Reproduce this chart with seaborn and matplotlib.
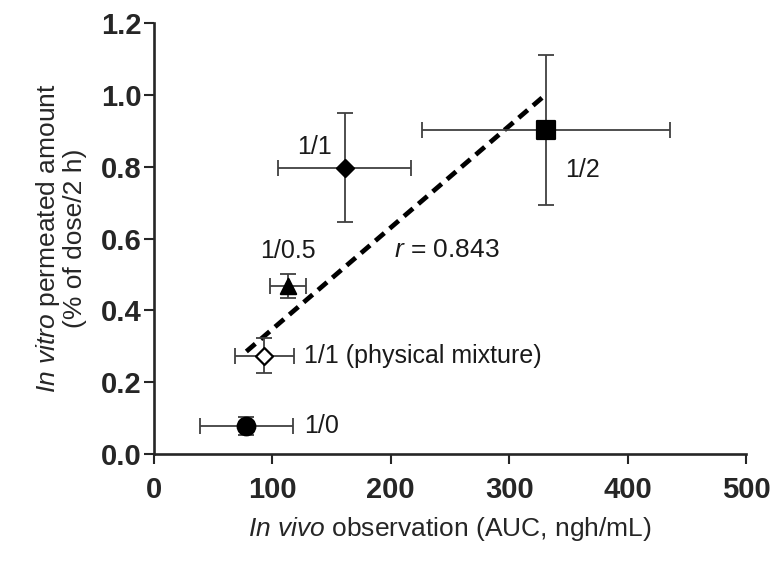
import numpy as np
import pandas as pd
import matplotlib
matplotlib.use("Agg")
import matplotlib.pyplot as plt
import seaborn as sns

# Formulation ratios and their in vivo / in vitro results
labels = ["1/0", "1/1 (physical mixture)", "1/0.5", "1/1", "1/2"]
auc = [78, 93, 113, 161, 331]            # in vivo AUC, ngh/mL
auc_err = [39, 25, 15, 56, 105]
permeated = [0.079, 0.274, 0.467, 0.797, 0.902]  # % of dose / 2 h
permeated_err = [0.025, 0.048, 0.033, 0.152, 0.208]

x_ticks = [0, 100, 200, 300, 400, 500]
y_ticks = [0.0, 0.2, 0.4, 0.6, 0.8, 1.0, 1.2]

df = pd.DataFrame({"label": labels, "auc": auc, "auc_err": auc_err,
                   "perm": permeated, "perm_err": permeated_err})

sns.set_style("ticks")
plt.rcParams["font.family"] = ["Liberation Sans", "DejaVu Sans"]
plt.rcParams["mathtext.fontset"] = "custom"
plt.rcParams["mathtext.rm"] = "Liberation Sans"
plt.rcParams["mathtext.it"] = "Liberation Sans:italic"

fig = plt.figure(figsize=(7.76, 5.61), dpi=100)
ax = fig.add_axes([154 / 776, 1 - 454 / 561, 592 / 776, 431 / 561])

# regression line across the data range
sns.regplot(data=df, x="auc", y="perm", ax=ax, scatter=False, ci=None,
            truncate=True,
            line_kws=dict(color="black", lw=3.4, linestyle=(0, (2.5, 1.5)),
                          zorder=2))

# error bars
ax.errorbar(df["auc"], df["perm"], xerr=df["auc_err"], yerr=df["perm_err"],
            fmt="none", ecolor="#404040", elinewidth=1.3, capsize=6,
            capthick=1.3, zorder=3)

markers = {"1/0": "o", "1/1 (physical mixture)": "D", "1/0.5": "^",
           "1/1": "D", "1/2": "s"}
sizes = {"1/0": 160, "1/1 (physical mixture)": 75, "1/0.5": 120,
         "1/1": 75, "1/2": 160}
faces = {"1/0": "black", "1/1 (physical mixture)": "white", "1/0.5": "black",
         "1/1": "black", "1/2": "black"}
for lab in labels:
    sub = df[df["label"] == lab]
    sns.scatterplot(data=sub, x="auc", y="perm", ax=ax, marker=markers[lab],
                    s=sizes[lab], color=faces[lab], edgecolor="black",
                    linewidth=1.6, zorder=4, legend=False)

# point labels
tkw = dict(fontsize=18, color="#1a1a1a")
ax.text(127, 0.077, "1/0", ha="left", va="center", **tkw)
ax.text(127, 0.272, "1/1 (physical mixture)", ha="left", va="center", **tkw)
ax.text(113, 0.565, "1/0.5", ha="center", va="center", **tkw)
ax.text(150, 0.855, "1/1", ha="right", va="center", **tkw)
ax.text(347, 0.790, "1/2", ha="left", va="center", **tkw)
ax.text(203, 0.568, r"$\mathit{r}$ = 0.843", ha="left", va="center",
        fontsize=19, color="#1a1a1a")

ax.set_xlim(0, 500)
ax.set_ylim(0, 1.2)
ax.set_xticks(x_ticks)
ax.set_yticks(y_ticks)
ax.set_xticklabels([str(t) for t in x_ticks])
ax.set_yticklabels([f"{t:.1f}" for t in y_ticks])
for lbl in ax.get_xticklabels() + ax.get_yticklabels():
    lbl.set_fontweight("bold")
    lbl.set_fontsize(21)
ax.tick_params(length=7, width=1.5)
ax.tick_params(axis="x", pad=9)
ax.tick_params(axis="y", pad=2)

ax.set_xlabel(r"$\mathit{In\ vivo}$ observation (AUC, ngh/mL)", fontsize=19,
              labelpad=8)
ax.set_ylabel(r"$\mathit{In\ vitro}$ permeated amount" + "\n(% of dose/2 h)",
              fontsize=19, labelpad=10, linespacing=1.05)

sns.despine(ax=ax)
for sp in ("left", "bottom"):
    ax.spines[sp].set_linewidth(1.9)

fig.savefig("out.png", dpi=100)
